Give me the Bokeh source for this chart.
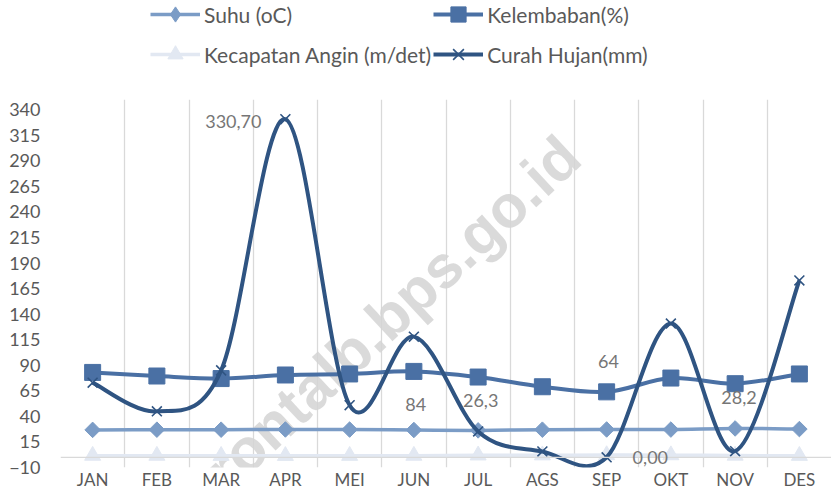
import math
from bokeh.plotting import figure
from bokeh.layouts import column
from bokeh.models import (Range1d, FixedTicker, Span, Label, Legend, LegendItem,
                          ColumnDataSource)
from bokeh.embed import file_html
from bokeh.resources import INLINE

# ---------------- data ----------------
months = ["JAN", "FEB", "MAR", "APR", "MEI", "JUN", "JUL", "AGS", "SEP", "OKT", "NOV", "DES"]
suhu = [26.8, 27.0, 27.0, 27.2, 27.1, 26.7, 26.3, 27.0, 27.2, 27.1, 28.2, 27.6]
kelembaban = [83, 79.5, 77, 80.5, 81.5, 84, 78.5, 69, 64, 77.5, 72, 81.5]
angin = [1.6, 1.6, 1.5, 1.4, 1.5, 1.6, 1.9, 2.0, 2.2, 2.1, 1.7, 1.5]
curah = [73, 45, 85, 330.7, 51, 118, 25.3, 5.7, 0.0, 130.8, 6, 173]
y_ticks = [-10, 15, 40, 65, 90, 115, 140, 165, 190, 215, 240, 265, 290, 315, 340]
label_texts = ["330,70", "84", "26,3", "64", "0,00", "28,2"]
series_names = ["Suhu (oC)", "Kelembaban(%)", "Kecapatan Angin (m/det)", "Curah Hujan(mm)"]
watermark = "rontalb.bps.go.id"

# ---------------- styles / positions ----------------
label_pos_x = [2.69, 5.53, 6.54, 8.53, 9.18, 10.56]
label_pos_y = [328, 52, 56, 94, -0.5, 58]
c_suhu = "#7b9cc6"
c_kel = "#4a70a4"
c_angin = "#e2e8f2"
c_curah = "#2f5482"
FONT = "Lato"
GRID = "#d9d9d9"
TXT = "#595959"

xs = [i + 0.5 for i in range(len(months))]


def smooth_source(x, y):
    n = len(x)
    d = dict(x0=[], y0=[], x1=[], y1=[], cx0=[], cy0=[], cx1=[], cy1=[])
    for i in range(n - 1):
        a = max(i - 1, 0)
        b = min(i + 2, n - 1)
        d["x0"].append(x[i]); d["y0"].append(y[i])
        d["x1"].append(x[i + 1]); d["y1"].append(y[i + 1])
        d["cx0"].append(x[i] + (x[i + 1] - x[a]) / 6.0)
        d["cy0"].append(y[i] + (y[i + 1] - y[a]) / 6.0)
        d["cx1"].append(x[i + 1] - (x[b] - x[i]) / 6.0)
        d["cy1"].append(y[i + 1] - (y[b] - y[i]) / 6.0)
    return ColumnDataSource(d)


# (values, colour, marker, size, line width, marker angle, legend marker)
specs = [
    (suhu, c_suhu, "square", 11, 3.5, math.pi / 4, "diamond"),
    (kelembaban, c_kel, "square", 16, 4.0, 0.0, "square"),
    (angin, c_angin, "triangle", 16, 3.5, 0.0, "triangle"),
    (curah, c_curah, "x", 14, 4.0, 0.0, "x"),
]


def add_marks(fig, x, y, k, legend_only=False):
    vals, col, mk, sz, lw, ang, lmk = specs[k]
    if legend_only:
        mk, ang = lmk, 0.0
    if mk == "x":
        return fig.scatter(x, y, marker="x", size=sz, line_color=col, line_width=1.6)
    return fig.scatter(x, y, marker=mk, size=sz, angle=ang, fill_color=col, line_color=col)


# ---------------- legend figure ----------------
lf = figure(width=831, height=99, output_backend="svg", toolbar_location=None,
            x_range=Range1d(0, 1), y_range=Range1d(0, 1),
            x_axis_type=None, y_axis_type=None, min_border=0)
lf.outline_line_color = None
lf.xgrid.visible = False
lf.ygrid.visible = False
items = []
for k in range(4):
    col, lw = specs[k][1], specs[k][4]
    ll = lf.line(x=[-5], y=[-5], line_color=col, line_width=lw)
    ls = add_marks(lf, [-5], [-5], k, legend_only=True)
    items.append(LegendItem(label=series_names[k], renderers=[ll, ls]))

legend = Legend(items=items, location=(90, 26), orientation="horizontal", ncols=2,
                label_text_font=FONT, label_text_font_size="21px",
                label_text_color=TXT, glyph_width=50, glyph_height=38,
                label_height=38, label_standoff=4, spacing=2, padding=0, margin=0,
                border_line_color=None, background_fill_alpha=0)
lf.add_layout(legend)

# ---------------- main chart ----------------
p = figure(width=831, height=394, output_backend="svg", toolbar_location=None,
           x_range=Range1d(0, 12), y_range=Range1d(-10, 350),
           min_border_left=60, min_border_right=0, min_border_top=0,
           min_border_bottom=26)
p.outline_line_color = None
p.background_fill_color = "white"
p.border_fill_color = "white"

p.ygrid.grid_line_color = None
p.xgrid.ticker = FixedTicker(ticks=list(range(0, 13)))
p.xgrid.grid_line_color = GRID
p.xgrid.grid_line_width = 1.3

p.xaxis.ticker = FixedTicker(ticks=xs)
p.xaxis.major_label_overrides = {x: m for x, m in zip(xs, months)}
p.xaxis.axis_line_color = None
p.xaxis.major_tick_line_color = None
p.xaxis.major_tick_out = 0
p.xaxis.major_tick_in = 0
p.xaxis.minor_tick_line_color = None
p.xaxis.major_label_text_font = FONT
p.xaxis.major_label_text_font_size = "17px"
p.xaxis.major_label_text_color = TXT
p.xaxis.major_label_standoff = 1

p.yaxis.ticker = FixedTicker(ticks=y_ticks)
p.yaxis.axis_line_color = None
p.yaxis.major_tick_line_color = None
p.yaxis.major_tick_out = 0
p.yaxis.major_tick_in = 0
p.yaxis.minor_tick_line_color = None
p.yaxis.major_label_text_font = FONT
p.yaxis.major_label_text_font_size = "18px"
p.yaxis.major_label_text_color = TXT
p.yaxis.major_label_standoff = 20

p.add_layout(Span(location=0, dimension="width", line_color=GRID, line_width=1.3))

p.add_layout(Label(x=5.17, y=141, text=watermark, angle=43, angle_units="deg",
                   text_align="center", text_baseline="middle",
                   text_font="Liberation Sans", text_font_style="bold",
                   text_font_size="60px", text_color="#d4d4d4", text_alpha=0.85,
                   level="underlay"))

for k in [2, 0, 1, 3]:
    vals, col, mk, sz, lw, ang, lmk = specs[k]
    src = smooth_source(xs, vals)
    p.bezier(x0="x0", y0="y0", x1="x1", y1="y1", cx0="cx0", cy0="cy0",
             cx1="cx1", cy1="cy1", source=src, line_color=col, line_width=lw)
    add_marks(p, xs, vals, k)

for t, lx, ly in zip(label_texts, label_pos_x, label_pos_y):
    p.add_layout(Label(x=lx, y=ly, text=t, text_align="center", text_baseline="middle",
                       text_font=FONT, text_font_size="18px", text_color="#767676"))

layout = column(lf, p, spacing=0)
open("out.html", "w").write(file_html(layout, INLINE))
